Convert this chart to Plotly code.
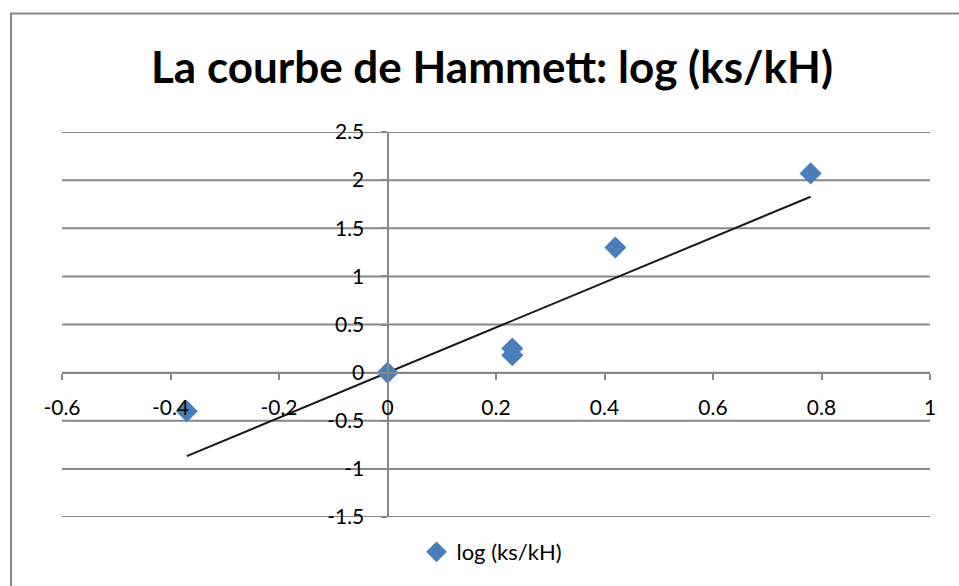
import numpy as np
import plotly.graph_objects as go

# Data
sigma = [-0.37, 0.0, 0.23, 0.23, 0.42, 0.78]
log_ratio = [-0.40, 0.0, 0.25, 0.18, 1.30, 2.07]
series_name = "log (ks/kH)"
title_text = "La courbe de Hammett: log (ks/kH)"
x_ticks = [-0.6, -0.4, -0.2, 0, 0.2, 0.4, 0.6, 0.8, 1]
y_ticks = [-1.5, -1, -0.5, 0, 0.5, 1, 1.5, 2, 2.5]

# Linear trendline forced through origin (Excel style)
xs = np.array(sigma)
ys = np.array(log_ratio)
slope = float((xs * ys).sum() / (xs * xs).sum())
trend_x = [min(sigma), max(sigma)]
trend_y = [slope * v for v in trend_x]

W, H = 959, 586
ml, mr, mt, mb = 62, 29, 132, 69
pw, ph = W - ml - mr, H - mt - mb

def px_to_paper_x(px):
    return (px - ml) / pw

def py_to_paper_y(py):
    return (H - mb - py) / ph

font_family = "Lato, Calibri, sans-serif"
grid_col = "#878787"

fig = go.Figure()
fig.add_trace(go.Scatter(
    x=trend_x, y=trend_y, mode="lines",
    line=dict(color="#1a1a1a", width=2), showlegend=False, hoverinfo="skip"))
fig.add_trace(go.Scatter(
    x=sigma, y=log_ratio, mode="markers", name=series_name,
    marker=dict(symbol="diamond", size=17, color="#4a7ebb",
                line=dict(width=0))))

x_rng = [-0.6, 1]
y_rng = [-1.5, 2.5]
x_pos = (0 - y_rng[0]) / (y_rng[1] - y_rng[0])
y_pos = (0 - x_rng[0]) / (x_rng[1] - x_rng[0])

grid_shapes = [dict(type="line", xref="paper", yref="y", x0=0, x1=1, y0=v, y1=v,
                    line=dict(color=grid_col, width=2), layer="below")
               for v in y_ticks]

border = dict(type="rect", xref="paper", yref="paper",
              x0=px_to_paper_x(11), x1=px_to_paper_x(975),
              y0=py_to_paper_y(600), y1=py_to_paper_y(13.5),
              line=dict(color=grid_col, width=2), fillcolor="rgba(0,0,0,0)",
              layer="below")

fig.update_layout(
    width=W, height=H,
    margin=dict(l=ml, r=mr, t=mt, b=mb, autoexpand=False),
    paper_bgcolor="white", plot_bgcolor="white",
    font=dict(family=font_family, color="#000000", size=21),
    xaxis=dict(range=x_rng, tickvals=x_ticks, ticktext=[f"{v:g}" for v in x_ticks],
               showgrid=False, zeroline=False, showline=True,
               linecolor=grid_col, linewidth=2, ticks="outside", ticklen=6,
               tickcolor=grid_col, tickwidth=2, anchor="free", position=x_pos,
               tickfont=dict(size=21), ticklabelstandoff=10, fixedrange=True),
    yaxis=dict(range=y_rng, tickvals=y_ticks, ticktext=[f"{v:g}" for v in y_ticks],
               showgrid=False, zeroline=False,
               showline=True, linecolor=grid_col, linewidth=2, ticks="outside",
               ticklen=6, tickcolor=grid_col, tickwidth=2, anchor="free",
               position=y_pos, tickfont=dict(size=21), ticklabelstandoff=12,
               fixedrange=True),
    showlegend=True,
    legend=dict(orientation="h", x=px_to_paper_x(492), xanchor="center",
                y=py_to_paper_y(552), yanchor="middle",
                font=dict(size=22), bgcolor="rgba(0,0,0,0)"),
    annotations=[dict(text=f"<b>{title_text}</b>", x=px_to_paper_x(492),
                      y=py_to_paper_y(66), xref="paper", yref="paper",
                      xanchor="center", yanchor="middle", showarrow=False,
                      font=dict(size=44, family=font_family, color="#000000"))],
    shapes=grid_shapes + [border],
)

fig.write_html("out.html", config={"displayModeBar": False},
               post_script="document.body.style.margin='0';"
                           "document.body.style.overflow='hidden';")
